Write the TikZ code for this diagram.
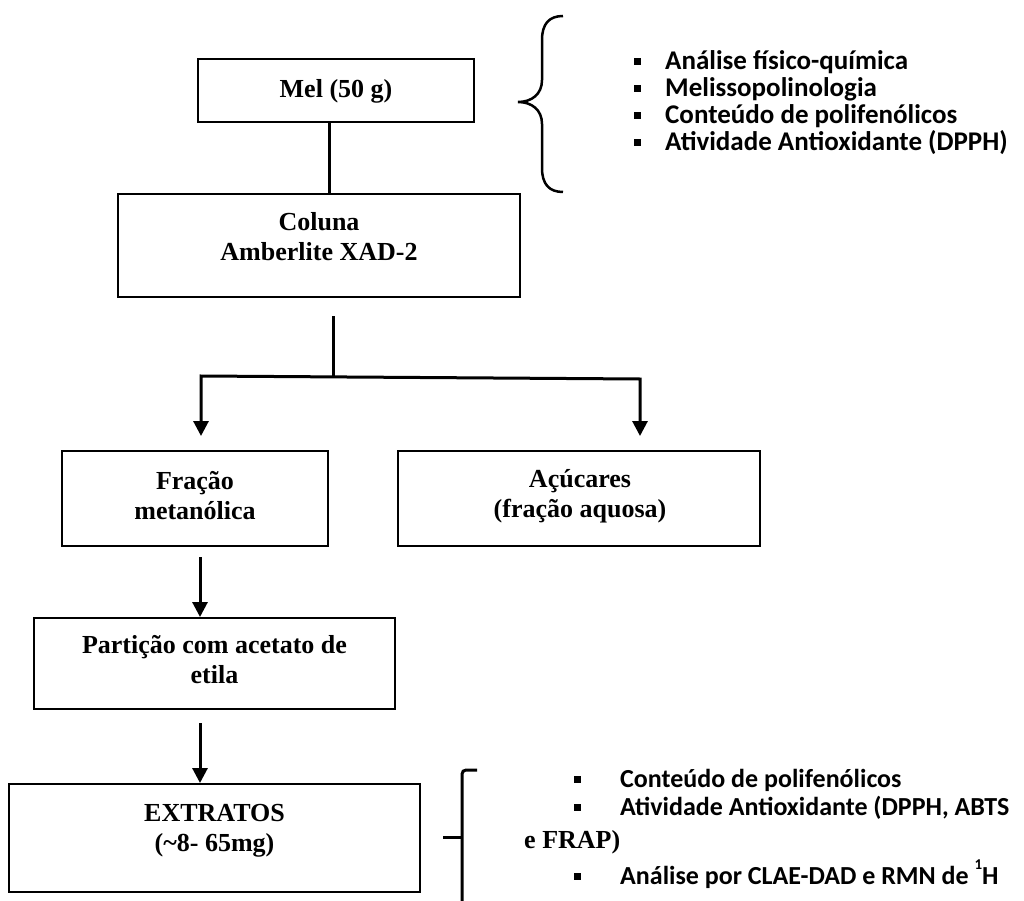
\documentclass[tikz,border=0pt]{standalone}
\usepackage{fontspec}
\setmainfont{Liberation Serif}
\newfontfamily\calfont{Carlito}
\usetikzlibrary{arrows.meta,calc}
\begin{document}
\begin{tikzpicture}[x=1pt,y=-1pt,
  box/.style={draw, line width=2pt, inner sep=0pt},
  btxt/.style={font=\fontsize{26}{30}\selectfont\bfseries, align=center, inner sep=0pt},
  ltxt/.style={font=\calfont\fontsize{26}{28}\selectfont\bfseries, anchor=base west, inner sep=0pt},
  toptxt/.style={font=\calfont\fontsize{27}{28}\selectfont\bfseries, anchor=base west, inner sep=0pt},
  stxt/.style={font=\fontsize{26}{28}\selectfont\bfseries, anchor=base west, inner sep=0pt},
  bul/.style={fill, minimum size=7pt, inner sep=0pt},
  conn/.style={line width=3pt},
  arr/.style={line width=3pt, -{Triangle[length=15pt,width=15pt]}},
  brace/.style={line width=2.5pt}]
\useasboundingbox (0,0) rectangle (1024,901);

% boxes
\node[box, minimum width=276pt, minimum height=63pt] (mel) at (336,90.5) {};
\node[btxt, anchor=base] (meltxt) at (336,98) {Mel (50 g)};

\node[box, minimum width=402pt, minimum height=103pt] (col) at (319,245.5) {};
\node[btxt] (coltxt) at (319,237) {Coluna\\Amberlite XAD-2};

\node[box, minimum width=266pt, minimum height=95pt] (frac) at (195,498.5) {};
\node[btxt] (fractxt) at (195,496) {Fração\\metanólica};

\node[box, minimum width=362pt, minimum height=95pt] (acu) at (579,498.5) {};
\node[btxt] (acutxt) at (580,496) {Açúcares\\(fração aquosa)};

\node[box, minimum width=361pt, minimum height=91pt] (part) at (214.5,663.5) {};
\node[btxt] (parttxt) at (214.5,660) {Partição com acetato de\\etila};

\node[box, minimum width=411pt, minimum height=108pt] (ext) at (214.5,838) {};
\node[btxt] (exttxt) at (214.5,831) {EXTRATOS\\(\textasciitilde8- 65mg)};

% connectors
\coordinate (mc) at (329,0);
\draw[conn] (mel.south -| mc) -- (col.north -| mc);

\coordinate (s0) at (333,316);
\coordinate (s1) at (333,377);
\coordinate (bl) at (201,376);
\coordinate (br) at (640,379);
\coordinate (fa) at (201,436);
\coordinate (aa) at (640,436);
\draw[conn] (s0) -- (s1);
\draw[conn, {Triangle[length=15pt,width=15pt]}-{Triangle[length=15pt,width=15pt]}] (fa) -- (bl) -- (br) -- (aa);

\coordinate (f0) at (200,557);
\draw[arr] (f0) -- (f0 |- part.north);
\coordinate (p0) at (200,723);
\draw[arr] (p0) -- (p0 |- ext.north);

% top brace
\draw[brace] (563,16) .. controls (549,16) and (542,24) .. (542,40) -- (542,80)
  .. controls (542,94) and (532,102) .. (518,102)
  .. controls (532,102) and (542,110) .. (542,124) -- (542,168)
  .. controls (542,184) and (549,192) .. (563,192);

% top list
\node[bul] (b1) at (637,62) {};
\node[bul] (b2) at (637,89) {};
\node[bul] (b3) at (637,116) {};
\node[bul] (b4) at (637,143) {};
\node[toptxt] (l1) at (665,70) {Análise físico-química};
\node[toptxt] (l2) at (665,97) {Melissopolinologia};
\node[toptxt] (l3) at (665,124) {Conteúdo de polifenólicos};
\node[toptxt] (l4) at (665,151) {Atividade Antioxidante (DPPH)};

% bottom brace
\draw[line width=3pt, rounded corners=4pt] (477,770) -- (462,770) -- (462,903);
\draw[line width=3pt] (443,837) -- (462,837);

% bottom list
\node[bul] (c1) at (577,779) {};
\node[bul] (c2) at (577,807) {};
\node[bul] (c3) at (577,876) {};
\node[ltxt] (m1) at (620,787) {Conteúdo de polifenólicos};
\node[ltxt] (m2) at (620,815) {Atividade Antioxidante (DPPH, ABTS};
\node[stxt] (m2b) at (524,848) {e FRAP)};
\node[ltxt] (m3) at (620,884) {Análise por CLAE-DAD e RMN de \raisebox{15pt}{\fontsize{15}{15}\selectfont 1}H};
\end{tikzpicture}
\end{document}
